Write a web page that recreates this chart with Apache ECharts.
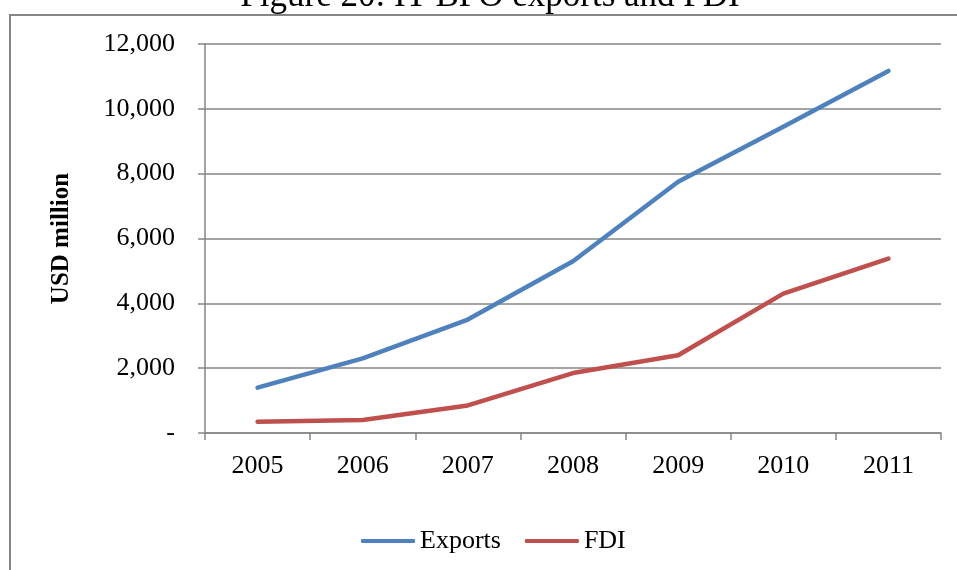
<!DOCTYPE html>
<html><head><meta charset="utf-8">
<script src="https://cdn.jsdelivr.net/npm/echarts@6/dist/echarts.min.js"></script>
<style>html,body{margin:0;padding:0;background:#fff}#c{width:957px;height:570px}</style>
</head><body><div id="c"></div>
<script>
const years = ['2005','2006','2007','2008','2009','2010','2011'];
const exportsVals = [1400, 2300, 3500, 5300, 7750, 9450, 11170];
const fdiVals = [350, 400, 850, 1850, 2400, 4300, 5380];
const yTicks = [0, 2000, 4000, 6000, 8000, 10000, 12000];

const chart = echarts.init(document.getElementById('c'));
const font = 'Liberation Serif';
chart.setOption({
  animation: false,
  textStyle: {fontFamily: font},
  graphic: [
    {type: 'rect', shape: {x: 10, y: 15, width: 960, height: 570},
      style: {fill: 'none', stroke: '#868686', lineWidth: 2}, silent: true},
    {type: 'text', x: 490, y: -21, silent: true,
      style: {text: 'Figure 20: IT-BPO exports and FDI', fontFamily: font, fontSize: 35,
        fill: '#000', textAlign: 'center', textVerticalAlign: 'top'}}
  ],
  grid: {left: 205, right: 16, top: 44, bottom: 137},
  legend: {bottom: 11, left: 356, itemWidth: 54, itemHeight: 4, itemGap: 24,
    icon: 'roundRect',
    textStyle: {fontFamily: font, fontSize: 26, color: '#000'},
    data: ['Exports', 'FDI']},
  xAxis: {type: 'category', data: years, boundaryGap: true,
    axisLine: {lineStyle: {color: '#868686', width: 1.5}},
    axisTick: {show: true, interval: 0, length: 7, lineStyle: {color: '#868686', width: 1.5}},
    axisLabel: {fontFamily: font, fontSize: 26, color: '#000', margin: 20}},
  yAxis: {type: 'value', min: 0, max: 12000, interval: 2000,
    name: 'USD million', nameLocation: 'middle', nameGap: 131,
    nameTextStyle: {fontFamily: font, fontSize: 25, fontWeight: 'bold', color: '#000'},
    axisLine: {show: true, lineStyle: {color: '#868686', width: 1.5}},
    axisTick: {show: true, length: 7, lineStyle: {color: '#868686', width: 1.5}},
    splitLine: {lineStyle: {color: '#868686', width: 1.5}},
    axisLabel: {fontFamily: font, fontSize: 26, color: '#000', margin: 30,
      formatter: v => v === 0 ? '-' : v.toLocaleString('en-US')}},
  series: [
    {name: 'Exports', type: 'line', data: exportsVals, symbol: 'none',
      lineStyle: {color: '#4F81BD', width: 4.5, cap: 'round', join: 'round'}, itemStyle: {color: '#4F81BD'}},
    {name: 'FDI', type: 'line', data: fdiVals, symbol: 'none',
      lineStyle: {color: '#C0504D', width: 4.5, cap: 'round', join: 'round'}, itemStyle: {color: '#C0504D'}}
  ]
});
</script></body></html>
